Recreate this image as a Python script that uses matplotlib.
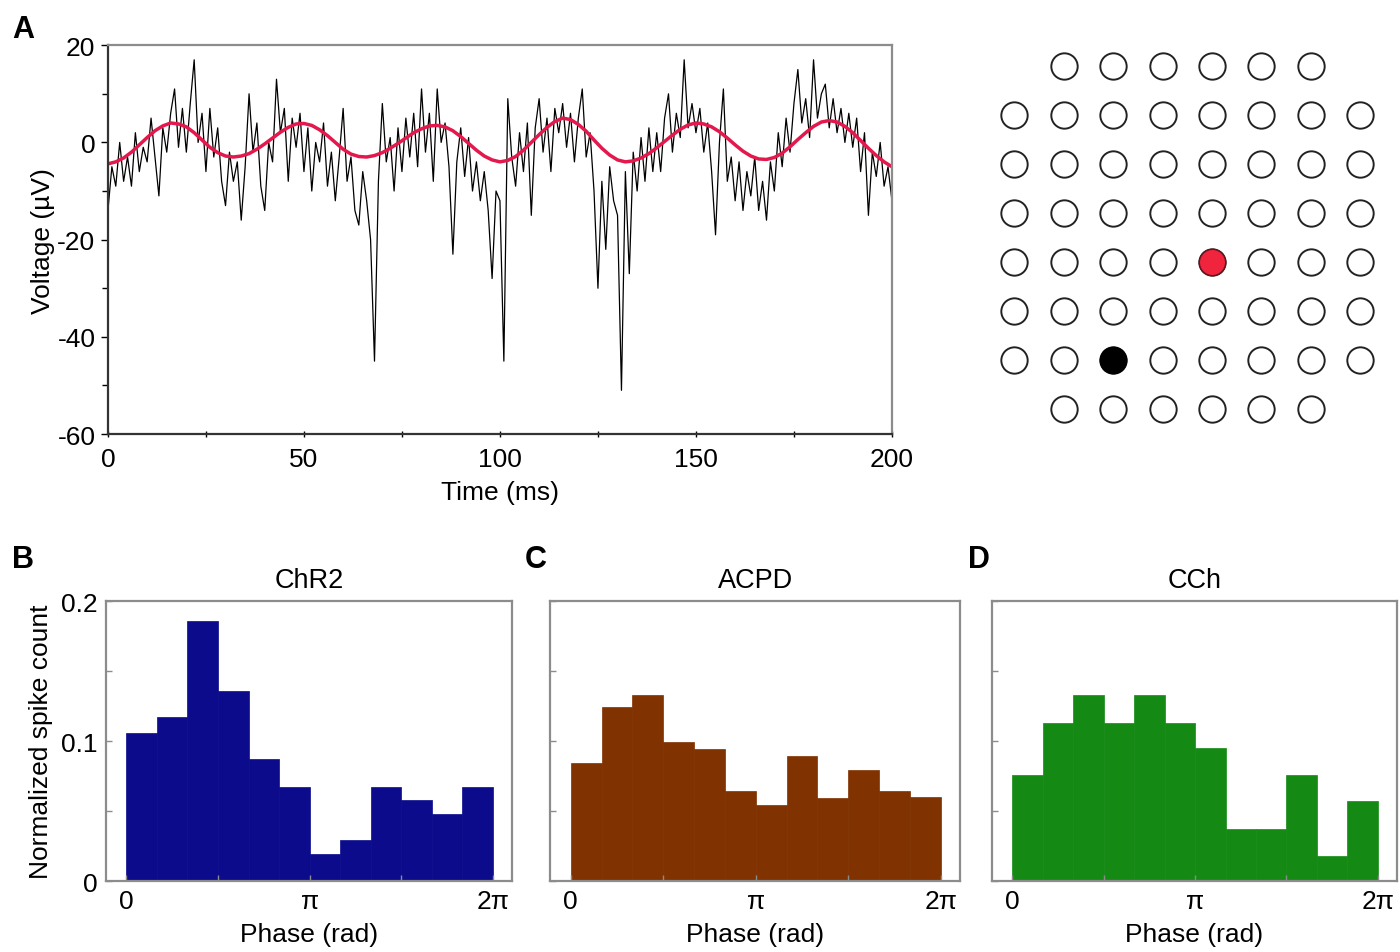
import numpy as np
import matplotlib
matplotlib.use("Agg")
import matplotlib.pyplot as plt

plt.rcParams['font.family'] = ['Liberation Sans', 'DejaVu Sans']
plt.rcParams['axes.unicode_minus'] = False

# --- panel A: LFP trace (1 ms samples) and its filtered oscillation (2 ms samples) ---
trace_uv = [
    -14, -5, -9, 0, -8, -3, -9, 2, -6, -1,
    -4, 5, -3, -11, 3, -2, 6, 11, -1, 7,
    -2, 8, 17, 0, 6, -6, 7, -3, 3, -8,
    -13, -2, -8, -4, -16, -5, 10, -2, 4, -9,
    -14, 0, -4, 13, 2, 7, -8, 5, -1, 6,
    -6, 3, -10, 0, -4, 4, -9, -2, -12, -3,
    7, -8, -3, -14, -17, -6, -12, -20, -45, -8,
    8, -4, 1, -10, 3, -6, 5, -3, 6, -5,
    11, -2, 6, -8, 11, 0, 4, -5, -23, -4,
    3, -7, 1, -10, -4, -12, -6, -14, -28, -10,
    -12, -45, 9, -3, -9, 2, -6, 4, -15, 3,
    9, -2, 5, -6, 7, 2, 8, -1, 6, -4,
    5, 11, -3, 2, -10, -30, -8, -22, -5, -12,
    -15, -51, -6, -27, -2, -10, 1, -8, 3, -6,
    2, -6, 5, 10, -2, 6, 1, 17, 3, 8,
    2, 7, -2, 4, -6, -19, 0, 11, -8, -3,
    -12, -4, -14, -6, -11, -3, -14, -8, -16, -4,
    -10, 2, -5, 5, -2, 8, 15, 4, 9, 1,
    17, 5, 10, 12, 3, 9, 2, 7, 0, 6,
    -1, 5, -6, 2, -15, -2, -7, 0, -9, -5,
    -12,
]
oscillation_uv = [
    -4.4, -4.0, -3.2, -2.0, -0.5, 1.0, 2.4, 3.4, 4.0,
    3.8, 3.2, 2.0, 0.5, -1.0, -2.1, -2.8, -3.0,
    -2.8, -2.3, -1.4, -0.3, 0.9, 2.1, 3.1, 3.8,
    3.9, 3.5, 2.6, 1.4, 0.0, -1.4, -2.4, -2.9, -3.0,
    -2.7, -2.1, -1.2, -0.2, 0.9, 2.0, 2.8, 3.4, 3.5,
    3.2, 2.4, 1.2, -0.2, -1.6, -2.8, -3.6, -4.0,
    -3.7, -2.9, -1.6, 0.0, 1.6, 3.1, 4.3, 5.0,
    4.7, 3.7, 2.3, 0.5, -1.2, -2.6, -3.6, -4.0,
    -3.8, -3.2, -2.3, -1.1, 0.2, 1.5, 2.7, 3.6, 4.0,
    3.8, 3.2, 2.2, 0.9, -0.5, -1.8, -2.8, -3.4, -3.5,
    -3.1, -2.2, -0.9, 0.6, 2.0, 3.3, 4.2, 4.5,
    4.2, 3.3, 2.0, 0.4, -1.2, -2.7, -4.0, -5.0,
]
trace_t = np.arange(len(trace_uv)) * 1.0
osc_t = np.arange(len(oscillation_uv)) * 2.0

# --- electrode array (8x8 without corners) ---
grid_cols = [c for r in range(8) for c in range(8)
             if not ((r in (0, 7)) and (c in (0, 7)))]
grid_rows = [r for r in range(8) for c in range(8)
             if not ((r in (0, 7)) and (c in (0, 7)))]
recording_site = (4, 4)   # (col, row), red
reference_site = (2, 6)   # black

# --- panels B-D: phase histograms (12 bins over 0..2pi) ---
chr2_counts = [0.106, 0.117, 0.186, 0.136, 0.087, 0.067,
               0.019, 0.029, 0.067, 0.058, 0.048, 0.067]
acpd_counts = [0.084, 0.124, 0.133, 0.099, 0.094, 0.064,
               0.054, 0.089, 0.059, 0.079, 0.064, 0.060]
cch_counts = [0.076, 0.113, 0.133, 0.113, 0.133, 0.113,
              0.095, 0.037, 0.037, 0.076, 0.018, 0.057]
hist_titles = ['ChR2', 'ACPD', 'CCh']
hist_colors = ['#0b0b8c', '#803200', '#148a14']

FS = 19
frame_gray = '#8c8c8c'

fig = plt.figure(figsize=(14, 9.53), dpi=100)

# Panel A
axA = fig.add_axes([0.0771, 0.5435, 0.56, 0.408])
axA.plot(trace_t, trace_uv, color='black', lw=0.9)
axA.plot(osc_t, oscillation_uv, color='#e3184c', lw=2.5)
axA.set_xlim(0, 200)
axA.set_ylim(-60, 20)
axA.set_xticks([0, 50, 100, 150, 200])
axA.set_xticks([25, 75, 125, 175], minor=True)
axA.set_yticks([-60, -40, -20, 0, 20])
axA.set_yticks([-50, -30, -10, 10], minor=True)
axA.tick_params(labelsize=FS, direction='out', length=5, width=1, pad=4)
axA.tick_params(which='minor', direction='out', length=4, width=1)
axA.tick_params(axis='x', direction='inout', pad=7)
axA.tick_params(axis='x', which='minor', direction='inout')
axA.set_xlabel('Time (ms)', fontsize=FS, labelpad=6)
axA.set_ylabel('Voltage (µV)', fontsize=FS, labelpad=2)
for name, sp in axA.spines.items():
    sp.set_color(frame_gray if name in ('top', 'right') else '#333333')
    sp.set_linewidth(1.6)

# Electrode array
axE = fig.add_axes([0.707, 0.5435, 0.282, 0.4124])
axE.scatter(grid_cols, grid_rows, s=360, facecolors='white',
            edgecolors='#222222', linewidths=1.4, zorder=2)
axE.scatter([recording_site[0]], [recording_site[1]], s=360,
            color='#f0243c', edgecolors='#6a1020', linewidths=1.0, zorder=3)
axE.scatter([reference_site[0]], [reference_site[1]], s=360,
            color='black', zorder=3)
axE.set_xlim(-0.5, 7.5)
axE.set_ylim(7.5, -0.5)
axE.axis('off')

# Panels B-D
edges = np.linspace(0, 2 * np.pi, 13)
width = edges[1] - edges[0]
hist_lefts = [0.0757, 0.3929, 0.7086]
hist_widths = [0.290, 0.2929, 0.2893]
for i, counts in enumerate([chr2_counts, acpd_counts, cch_counts]):
    ax = fig.add_axes([hist_lefts[i], 0.0745, hist_widths[i], 0.2938])
    ax.bar(edges[:-1], counts, width=width, align='edge',
           color=hist_colors[i], edgecolor=hist_colors[i], linewidth=0.5)
    ax.set_xlim(-0.35, 2 * np.pi + 0.33)
    ax.set_ylim(0, 0.2)
    ax.set_xticks([0, np.pi, 2 * np.pi])
    ax.set_xticklabels(['0', 'π', '2π'])
    ax.set_xticks([np.pi / 2, 3 * np.pi / 2], minor=True)
    ax.set_yticks([0, 0.1, 0.2])
    ax.set_yticks([0.05, 0.15], minor=True)
    ax.tick_params(labelsize=FS, direction='in', length=4, width=1,
                   color=frame_gray, pad=6)
    ax.tick_params(axis='x', pad=6)
    ax.tick_params(which='minor', direction='in', length=4, width=1,
                   color=frame_gray)
    if i == 0:
        ax.set_yticklabels(['0', '0.1', '0.2'])
        ax.set_ylabel('Normalized spike count', fontsize=FS, labelpad=6)
    else:
        ax.set_yticklabels([])
    ax.set_xlabel('Phase (rad)', fontsize=FS, labelpad=6)
    ax.set_title(hist_titles[i], fontsize=FS + 0.5, pad=10)
    for sp in ax.spines.values():
        sp.set_color(frame_gray)
        sp.set_linewidth(1.6)

# Panel letters
for letter, x, y in [('A', 12, 15), ('B', 12, 545), ('C', 525, 545), ('D', 968, 545)]:
    fig.text(x / 1400, 1 - y / 953, letter, fontsize=22, fontweight='bold',
             ha='left', va='top')

fig.savefig('out.png', dpi=100, facecolor='white')
